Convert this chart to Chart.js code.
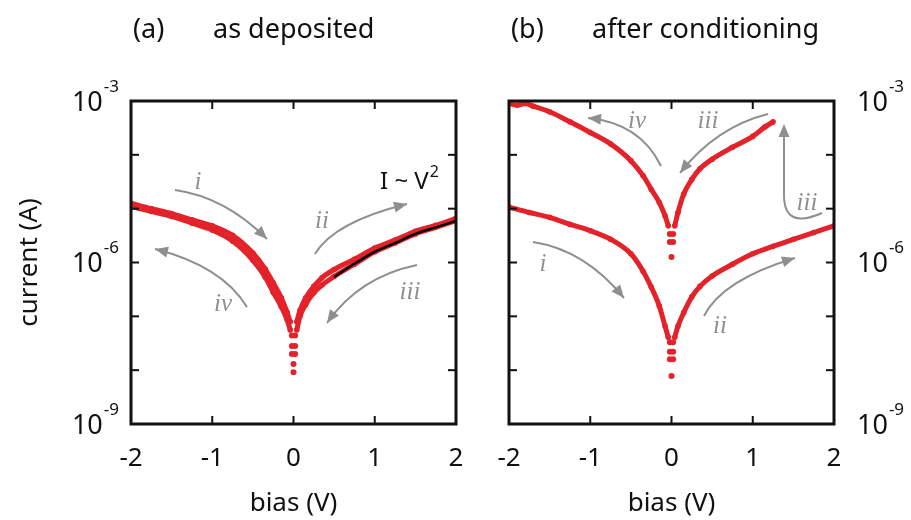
<!DOCTYPE html>
<html>
<head>
<meta charset="utf-8">
<script src="https://cdn.jsdelivr.net/npm/chart.js@4.4.0/dist/chart.umd.min.js"></script>
<style>
  html, body { margin: 0; padding: 0; background: #fff; }
  #wrap { position: relative; width: 911px; height: 520px; }
  #c1 { position: absolute; left: 0; top: 0; }
  #c2 { position: absolute; left: 470px; top: 0; }
</style>
</head>
<body>
<div id="wrap">
  <canvas id="c1" width="470" height="520" style="width:470px;height:520px"></canvas>
  <canvas id="c2" width="441" height="520" style="width:441px;height:520px"></canvas>
</div>
<script>
// ---- data (bias in V, current in A) ----
const biasNeg = [-2, -1.75, -1.5, -1.25, -1, -0.75, -0.5, -0.35, -0.25, -0.15, -0.08, -0.04];
const biasPos = [0.04, 0.08, 0.15, 0.25, 0.35, 0.5, 0.75, 1, 1.25, 1.5, 1.75, 2];

// (a) as deposited
const depI   = [1.26e-5, 1.0e-5, 8.1e-6, 6.2e-6, 4.8e-6, 3.2e-6, 1.5e-6, 7.6e-7, 4.2e-7, 2.2e-7, 1.2e-7, 7.9e-8];
const depIV  = [1.1e-5, 8.9e-6, 7.2e-6, 5.4e-6, 4.0e-6, 2.5e-6, 1.1e-6, 5.4e-7, 2.8e-7, 1.5e-7, 8.7e-8, 5.6e-8];
const depII  = [7.9e-8, 1.3e-7, 2.2e-7, 3.6e-7, 5.2e-7, 7.4e-7, 1.15e-6, 1.86e-6, 2.6e-6, 3.8e-6, 4.9e-6, 6.6e-6];
const depIII = [5.6e-8, 1.0e-7, 1.66e-7, 2.75e-7, 3.8e-7, 5.5e-7, 9.3e-7, 1.58e-6, 2.3e-6, 3.4e-6, 4.5e-6, 6.0e-6];
const depZeroBias = [-0.02, 0.02, -0.02, 0.02, -0.02, 0.02, 0, 0];
const depZeroI    = [4.4e-8, 4.4e-8, 2.8e-8, 2.8e-8, 2.0e-8, 2.0e-8, 1.3e-8, 9.1e-9];
const fitBias = [0.5, 0.75, 1, 1.25, 1.5, 1.75, 2];
const fitI    = [5.4e-7, 9.5e-7, 1.58e-6, 2.3e-6, 3.4e-6, 4.5e-6, 5.9e-6];

// (b) after conditioning
const condI  = [1.07e-5, 8.5e-6, 6.9e-6, 5.1e-6, 3.9e-6, 2.7e-6, 1.45e-6, 6.9e-7, 3.5e-7, 1.55e-7, 6.6e-8, 4.1e-8];
const condII = [4.1e-8, 6.6e-8, 1.17e-7, 2.3e-7, 3.6e-7, 5.6e-7, 9.3e-7, 1.45e-6, 2.0e-6, 2.7e-6, 3.6e-6, 4.8e-6];
const condLowZeroBias = [-0.02, 0.02, -0.02, 0.02, -0.02, 0.02, 0];
const condLowZeroI    = [3.3e-8, 3.3e-8, 2.2e-8, 2.2e-8, 1.6e-8, 1.6e-8, 7.8e-9];
const condIVBias = [-2, -1.9, -1.8, -1.7, -1.5, -1.25, -1, -0.75, -0.5, -0.35, -0.25, -0.15, -0.08, -0.04];
const condIV     = [9.0e-4, 8.4e-4, 9.0e-4, 8.0e-4, 6.3e-4, 4.1e-4, 2.6e-4, 1.6e-4, 7.8e-5, 4.1e-5, 2.3e-5, 1.3e-5, 7.4e-6, 4.8e-6];
const condIIIBias = [0.04, 0.08, 0.15, 0.25, 0.35, 0.5, 0.75, 1, 1.15, 1.25];
const condIII     = [4.8e-6, 8.5e-6, 1.86e-5, 3.5e-5, 5.5e-5, 8.3e-5, 1.38e-4, 2.2e-4, 3.3e-4, 4.1e-4];
const condUpZeroBias = [-0.02, 0.02, -0.02, 0.02, 0];
const condUpZeroI    = [3.4e-6, 3.4e-6, 2.4e-6, 2.4e-6, 1.26e-6];

// axes
const xTicks = [-2, -1, 0, 1, 2];
const decades = [1e-9, 1e-8, 1e-7, 1e-6, 1e-5, 1e-4, 1e-3];
const yLabelValues = [1e-9, 1e-6, 1e-3];
const yLabelExps = ['-9', '-6', '-3'];

const FONT = '"Noto Sans", sans-serif';
const RED = '#e3222a';
const GRAY = '#8f8f8f';

function pts(b, c) { return b.map((v, i) => ({ x: v, y: c[i] })); }
function curve(b, c) {
  return { data: pts(b, c), showLine: true, borderColor: RED, backgroundColor: RED,
    borderWidth: 5, pointRadius: 2.8, pointBorderWidth: 0, pointHoverRadius: 0,
    cubicInterpolationMode: 'monotone', order: 1 };
}
function dots(b, c) {
  return { data: pts(b, c), showLine: false, borderColor: RED, backgroundColor: RED,
    pointRadius: 3, pointBorderWidth: 0, pointHoverRadius: 0, order: 1 };
}

function line(ctx, x0, y0, x1, y1) { ctx.beginPath(); ctx.moveTo(x0, y0); ctx.lineTo(x1, y1); ctx.stroke(); }

function head(ctx, tx, ty, fx, fy) {
  let dx = tx - fx, dy = ty - fy;
  const l = Math.hypot(dx, dy); dx /= l; dy /= l;
  const bx = tx - dx * 13, by = ty - dy * 13;
  ctx.beginPath();
  ctx.moveTo(tx, ty);
  ctx.lineTo(bx - dy * 5.5, by + dx * 5.5);
  ctx.lineTo(bx + dy * 5.5, by - dx * 5.5);
  ctx.closePath(); ctx.fill();
}

const deco = {
  id: 'deco',
  afterDraw(chart, args, o) {
    const { ctx, chartArea: a, scales: { x, y } } = chart;
    ctx.save();
    ctx.strokeStyle = '#111'; ctx.fillStyle = '#111';
    ctx.lineWidth = 2;
    xTicks.forEach(v => {
      const px = x.getPixelForValue(v);
      line(ctx, px, a.bottom, px, a.bottom - 8);
      line(ctx, px, a.top, px, a.top + 8);
    });
    decades.forEach(v => {
      const py = y.getPixelForValue(v);
      line(ctx, a.left, py, a.left + 8, py);
      line(ctx, a.right, py, a.right - 8, py);
    });
    ctx.lineWidth = 3;
    ctx.strokeRect(a.left, a.top, a.right - a.left, a.bottom - a.top);

    // y labels 10^n
    ctx.textBaseline = 'middle';
    yLabelValues.forEach((v, i) => {
      const py = y.getPixelForValue(v) + 2;
      ctx.font = '27px ' + FONT; const w = ctx.measureText('10').width;
      ctx.font = '17px ' + FONT; const we = ctx.measureText(yLabelExps[i]).width;
      const x0 = o.side === 'left' ? a.left - 13 - w - we : a.right + 23;
      ctx.textAlign = 'left';
      ctx.font = '27px ' + FONT; ctx.fillText('10', x0, py);
      ctx.font = '17px ' + FONT; ctx.fillText(yLabelExps[i], x0 + w + 1, py - 16);
    });

    // panel title
    ctx.font = '27px ' + FONT;
    ctx.fillText(o.tag, o.tagX - o.dx, 30);
    ctx.fillText(o.title, o.titleX - o.dx, 30);

    // arrows
    ctx.strokeStyle = GRAY; ctx.fillStyle = GRAY; ctx.lineWidth = 2;
    o.arrows.forEach(ar => {
      const p = ar.map((v, i) => i % 2 === 0 ? v - o.dx : v);
      ctx.beginPath();
      ctx.moveTo(p[0], p[1]);
      ctx.quadraticCurveTo(p[2], p[3], p[4], p[5]);
      if (p.length > 6) {
        ctx.lineTo(p[6], p[7] + 8);
        ctx.stroke();
        head(ctx, p[6], p[7], p[4], p[5]);
      } else {
        ctx.stroke();
        head(ctx, p[4], p[5], p[2], p[3]);
      }
    });
    ctx.font = 'italic 25px "Liberation Serif", serif';
    ctx.textAlign = 'center';
    o.labels.forEach(l => ctx.fillText(l[0], l[1] - o.dx, l[2]));

    if (o.fitText) {
      ctx.fillStyle = '#111'; ctx.textAlign = 'left';
      ctx.font = '24px ' + FONT;
      ctx.fillText('I ~ V', 380 - o.dx, 182);
      const w = ctx.measureText('I ~ V').width;
      ctx.font = '16px ' + FONT;
      ctx.fillText('2', 380 - o.dx + w + 1, 172);
    }
    ctx.restore();
  }
};

function makeOptions(side, deco) {
  return {
    responsive: false,
    animation: false,
    layout: { padding: { top: 101, bottom: 0, left: side === 'left' ? 0 : 39, right: side === 'left' ? 14 : 0 } },
    plugins: { legend: { display: false }, tooltip: { enabled: false }, deco: deco },
    scales: {
      x: {
        type: 'linear', min: -2, max: 2, position: 'bottom',
        grid: { display: false, drawTicks: false }, border: { display: false },
        ticks: { stepSize: 1, autoSkip: false, maxRotation: 0, padding: 19, color: '#111', font: { family: FONT, size: 26 } },
        title: { display: true, text: 'bias (V)', color: '#111', font: { family: FONT, size: 26 }, padding: { top: 2, bottom: 1 } },
        afterFit: s => { s.height = 96; s.paddingLeft = 0; s.paddingRight = 0; }
      },
      y: {
        type: 'logarithmic', min: 1e-9, max: 1e-3, position: side,
        grid: { display: false, drawTicks: false }, border: { display: false },
        ticks: { display: false },
        afterBuildTicks: s => { s.ticks = decades.map(v => ({ value: v })); },
        title: { display: side === 'left', text: 'current (A)', color: '#111', font: { family: FONT, size: 26 }, padding: { top: 14, bottom: 0 } },
        afterFit: s => { s.width = side === 'left' ? 131 : 77; s.paddingTop = 0; s.paddingBottom = 0; }
      }
    }
  };
}

new Chart(document.getElementById('c1'), {
  type: 'scatter',
  data: {
    datasets: [
      { data: pts(fitBias, fitI), showLine: true, borderColor: '#000', borderWidth: 2.5, pointRadius: 0,
        cubicInterpolationMode: 'monotone', order: 0 },
      curve(biasNeg, depI), curve(biasNeg, depIV), curve(biasPos, depII), curve(biasPos, depIII),
      dots(depZeroBias, depZeroI)
    ]
  },
  options: makeOptions('left', {
    side: 'left', dx: 0, tag: '(a)', tagX: 133, title: 'as deposited', titleX: 213, fitText: true,
    arrows: [
      [175, 190, 225, 197, 267, 239],
      [315, 254, 334, 222, 407, 204],
      [417, 265, 359, 277, 327, 323],
      [247, 307, 222, 266, 155, 249]
    ],
    labels: [['i', 198, 182], ['ii', 322, 221], ['iii', 410, 292], ['iv', 223, 304]]
  }),
  plugins: [deco]
});

new Chart(document.getElementById('c2'), {
  type: 'scatter',
  data: {
    datasets: [
      curve(biasNeg, condI), curve(biasPos, condII), dots(condLowZeroBias, condLowZeroI),
      curve(condIVBias, condIV), curve(condIIIBias, condIII), dots(condUpZeroBias, condUpZeroI)
    ]
  },
  options: makeOptions('right', {
    side: 'right', dx: 470, tag: '(b)', tagX: 511, title: 'after conditioning', titleX: 592, fitText: false,
    arrows: [
      [533, 242, 585, 250, 624, 298],
      [704, 316, 722, 280, 795, 258],
      [768, 114, 716, 127, 680, 173],
      [661, 166, 640, 123, 588, 118],
      [822, 213, 784, 230, 784, 195, 784, 124]
    ],
    labels: [['i', 543, 264], ['ii', 720, 326], ['iii', 708, 121], ['iv', 637, 121], ['iii', 807, 203]]
  }),
  plugins: [deco]
});
</script>
</body>
</html>
